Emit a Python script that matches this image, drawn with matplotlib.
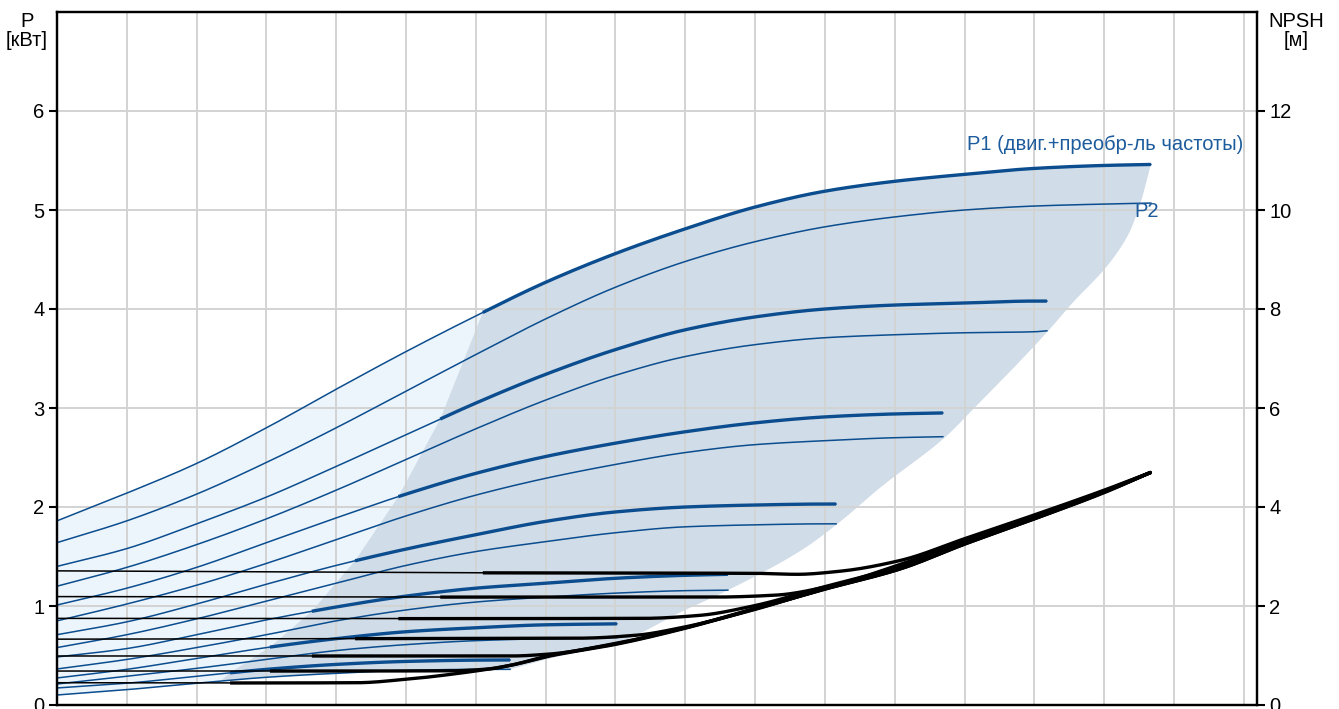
import numpy as np
import matplotlib.pyplot as plt

plt.rcParams['font.family'] = ['Liberation Sans', 'DejaVu Sans']

# power curves per speed (flow in grid units, P in kW): P1 = motor+converter, P2 = shaft
s1_x = [0, 1, 2, 3, 4, 5, 6, 7, 8, 9, 10, 11, 12, 13, 14, 15, 15.67]
s1_p1 = [1.86, 2.14, 2.44, 2.80, 3.19, 3.57, 3.93, 4.27, 4.56, 4.81, 5.03, 5.19, 5.29, 5.36, 5.42, 5.45, 5.46]
s1_p2 = [1.64, 1.86, 2.13, 2.45, 2.80, 3.17, 3.54, 3.90, 4.22, 4.48, 4.68, 4.83, 4.93, 5.00, 5.04, 5.06, 5.07]

s2_x = [0, 1, 2, 3, 4, 5, 6, 7, 8, 9, 10, 11, 12, 13, 14, 14.18]
s2_p1 = [1.40, 1.58, 1.83, 2.10, 2.41, 2.73, 3.05, 3.34, 3.59, 3.79, 3.92, 4.00, 4.04, 4.06, 4.08, 4.08]
s2_p2 = [1.20, 1.39, 1.62, 1.88, 2.17, 2.48, 2.79, 3.08, 3.33, 3.52, 3.64, 3.71, 3.74, 3.76, 3.77, 3.78]

s3_x = [0, 1, 2, 3, 4, 5, 6, 7, 8, 9, 10, 11, 12, 12.69]
s3_p1 = [1.01, 1.18, 1.39, 1.64, 1.89, 2.13, 2.34, 2.51, 2.645, 2.76, 2.85, 2.91, 2.94, 2.95]
s3_p2 = [0.85, 1.02, 1.21, 1.43, 1.67, 1.91, 2.12, 2.29, 2.43, 2.55, 2.63, 2.67, 2.70, 2.71]

s4_x = [0, 1, 2, 3, 4, 5, 6, 7, 8, 9, 10, 11, 11.16]
s4_p1 = [0.71, 0.84, 1.02, 1.22, 1.41, 1.575, 1.72, 1.855, 1.95, 2.00, 2.02, 2.03, 2.03]
s4_p2 = [0.58, 0.71, 0.87, 1.05, 1.23, 1.41, 1.55, 1.65, 1.74, 1.80, 1.82, 1.83, 1.83]

s5_x = [0, 1, 2, 3, 4, 5, 6, 7, 8, 9, 9.61]
s5_p1 = [0.485, 0.57, 0.71, 0.86, 0.99, 1.10, 1.18, 1.23, 1.28, 1.31, 1.32]
s5_p2 = [0.364, 0.46, 0.58, 0.71, 0.85, 0.96, 1.04, 1.09, 1.13, 1.155, 1.16]

s6_x = [0, 1, 2, 3, 4, 5, 6, 7, 8.02]
s6_p1 = [0.273, 0.36, 0.47, 0.58, 0.67, 0.74, 0.78, 0.81, 0.82]
s6_p2 = [0.212, 0.29, 0.37, 0.46, 0.55, 0.61, 0.65, 0.67, 0.68]

s7_x = [0, 1, 2, 3, 4, 5, 6, 6.49]
s7_p1 = [0.172, 0.22, 0.29, 0.36, 0.41, 0.44, 0.453, 0.455]
s7_p2 = [0.101, 0.155, 0.22, 0.28, 0.32, 0.35, 0.36, 0.36]

# flow where the curves turn bold (start of the shaded operating range)
bold_from = [6.1, 5.49, 4.89, 4.27, 3.65, 3.05, 2.48]

# NPSH curves [m]
n1_x = [0, 6.1, 10.0, 10.6, 11.2, 12.08, 13, 14, 15, 15.67]
n1 = [2.71, 2.67, 2.66, 2.64, 2.70, 2.92, 3.36, 3.84, 4.34, 4.70]
n2_x = [0, 5.49, 9.4, 10.3, 11.0, 12.08, 13, 14, 15, 15.67]
n2 = [2.19, 2.18, 2.18, 2.22, 2.38, 2.84, 3.32, 3.82, 4.32, 4.70]
n3_x = [0, 4.89, 8.4, 9.2, 9.97, 10.97, 12.08, 13, 14, 15, 15.67]
n3 = [1.75, 1.745, 1.75, 1.81, 2.0, 2.38, 2.80, 3.30, 3.80, 4.32, 4.70]
n4_x = [0, 4.27, 7.5, 8.3, 8.97, 9.97, 10.97, 12.08, 13, 14, 15, 15.67]
n4 = [1.33, 1.34, 1.35, 1.41, 1.57, 1.92, 2.34, 2.78, 3.28, 3.78, 4.31, 4.70]
n5_x = [0, 3.65, 6.5, 7.06, 8.02, 8.97, 9.97, 10.97, 12.08, 13, 14, 15, 15.67]
n5 = [0.99, 0.99, 0.99, 1.03, 1.25, 1.55, 1.94, 2.34, 2.76, 3.26, 3.77, 4.30, 4.70]
n6_x = [0, 3.05, 5.6, 6.2, 6.49, 7.06, 8.02, 8.97, 9.97, 10.97, 12.08, 13, 14, 15, 15.67]
n6 = [0.686, 0.686, 0.69, 0.73, 0.80, 1.0, 1.24, 1.55, 1.93, 2.33, 2.75, 3.25, 3.76, 4.30, 4.70]
n7_x = [0, 2.48, 4.3, 5.0, 5.86, 6.49, 7.06, 8.02, 8.97, 9.97, 10.97, 12.08, 13, 14, 15, 15.67]
n7 = [0.45, 0.445, 0.45, 0.52, 0.66, 0.80, 0.99, 1.23, 1.54, 1.93, 2.33, 2.75, 3.25, 3.76, 4.29, 4.70]

# right edge of the shaded operating range (flow, kW), top to bottom
edge_x = [15.67, 15.52, 15.33, 14.47, 14.2, 13.14, 12.73, 11.8, 11.18, 10.7, 9.61, 8.97, 8.0, 7.06, 6.49]
edge_y = [5.46, 5.07, 4.73, 4.0, 3.78, 3.0, 2.71, 2.2, 1.83, 1.58, 1.16, 0.95, 0.62, 0.47, 0.36]

speeds = [(s1_x, s1_p1, s1_p2), (s2_x, s2_p1, s2_p2), (s3_x, s3_p1, s3_p2),
          (s4_x, s4_p1, s4_p2), (s5_x, s5_p1, s5_p2), (s6_x, s6_p1, s6_p2),
          (s7_x, s7_p1, s7_p2)]
npsh = [(n1_x, n1), (n2_x, n2), (n3_x, n3), (n4_x, n4), (n5_x, n5), (n6_x, n6), (n7_x, n7)]

BLUE = '#0b4d8e'
TXT = '#1d5c9c'
THIN, THICK = 1.1, 2.4
FS = 14.5


def smooth(x, y, n=25):
    # monotone cubic (Fritsch-Butland) through the read points, for drawing only
    x = np.asarray(x, float)
    y = np.asarray(y, float)
    h = np.diff(x)
    d = np.diff(y) / h
    m = np.zeros_like(y)
    m[0], m[-1] = d[0], d[-1]
    for k in range(1, len(x) - 1):
        if d[k - 1] * d[k] > 0:
            h0, h1 = h[k - 1], h[k]
            m[k] = 3 * (h0 + h1) / ((2 * h1 + h0) / d[k - 1] + (h1 + 2 * h0) / d[k])
    xs, ys = [], []
    for k in range(len(h)):
        t = np.linspace(0, 1, n, endpoint=(k == len(h) - 1))
        h00 = 2 * t**3 - 3 * t**2 + 1
        h10 = t**3 - 2 * t**2 + t
        h01 = -2 * t**3 + 3 * t**2
        h11 = t**3 - t**2
        xs.append(x[k] + t * h[k])
        ys.append(h00 * y[k] + h10 * h[k] * m[k] + h01 * y[k + 1] + h11 * h[k] * m[k + 1])
    return np.concatenate(xs), np.concatenate(ys)


def bold_part(x, y, x0):
    keep = x > x0
    return np.r_[x0, x[keep]], np.r_[np.interp(x0, x, y), y[keep]]


fig = plt.figure(figsize=(13.39, 7.09), dpi=100)
ax = fig.add_axes([57 / 1339, 4 / 709, 1200 / 1339, 693 / 709])

top_sx, top_sy = smooth(s1_x, s1_p1)
bot_sx, bot_sy = smooth(s7_x, s7_p2)

# light band left of the operating range
xf = np.linspace(0, bold_from[0], 300)
ax.fill_between(xf, np.interp(xf, bot_sx, bot_sy), np.interp(xf, top_sx, top_sy),
                color='#edf5fc', lw=0, zorder=0.2)

# shaded operating range
left_x = bold_from[::-1]
left_y = [np.interp(b, *smooth(s[0], s[1])) for b, s in zip(bold_from, speeds)][::-1]
top_x, top_y = bold_part(top_sx, top_sy, bold_from[0])
ex, ey = smooth(edge_x[::-1], edge_y[::-1])
bot_x = np.linspace(edge_x[-1], 2.34, 60)
bot_y = np.interp(bot_x, bot_sx, bot_sy)
poly_x = np.r_[left_x, top_x[1:], ex[::-1][1:], bot_x]
poly_y = np.r_[left_y, top_y[1:], ey[::-1][1:], bot_y]
ax.fill(poly_x, poly_y, color='#d0dce8', lw=0, zorder=0.3)

for (x, p1, p2), b in zip(speeds, bold_from):
    x1, y1 = smooth(x, p1)
    x2, y2 = smooth(x, p2)
    ax.plot(x1, y1, color=BLUE, lw=THIN, zorder=2)
    ax.plot(x2, y2, color=BLUE, lw=THIN, zorder=2)
    bx, by = bold_part(x1, y1, b)
    ax.plot(bx, by, color=BLUE, lw=THICK, solid_capstyle='butt', zorder=2.1)

ax.set_xlim(0, 17.19)
ax.set_ylim(0, 7)
ax.set_xticks(np.arange(0, 18))
ax.set_yticks(range(7))
ax.set_axisbelow(True)
ax.grid(True, color='#d3d3d3', lw=1.4)
ax.tick_params(axis='x', length=0, labelbottom=False)
ax.tick_params(axis='y', length=6, width=1.5, labelsize=FS, pad=3)
for sp in ax.spines.values():
    sp.set_linewidth(1.6)

ax2 = ax.twinx()
for (x, n), b in zip(npsh, bold_from):
    nx, ny = smooth(x, n)
    ax2.plot(nx, ny, color='black', lw=THIN, zorder=2)
    bx, by = bold_part(nx, ny, b)
    ax2.plot(bx, by, color='black', lw=THICK, solid_capstyle='butt', zorder=2.1)
ax2.set_ylim(0, 14)
ax2.set_yticks(range(0, 13, 2))
ax2.tick_params(axis='y', length=6, width=1.5, labelsize=FS, pad=3)
for sp in ax2.spines.values():
    sp.set_linewidth(1.6)

ax.text(13.04, 5.66, 'P1 (двиг.+преобр-ль частоты)', color=TXT, fontsize=FS, va='center')
ax.text(15.44, 4.98, 'P2', color=TXT, fontsize=FS, va='center')

fig.text(27 / 1339, 1 - 31 / 709, 'P\n[кВт]', ha='center', va='center', fontsize=FS, linespacing=1.05)
fig.text(1296 / 1339, 1 - 31 / 709, 'NPSH\n[м]', ha='center', va='center', fontsize=FS, linespacing=1.05)

fig.savefig('out.png', dpi=100)
